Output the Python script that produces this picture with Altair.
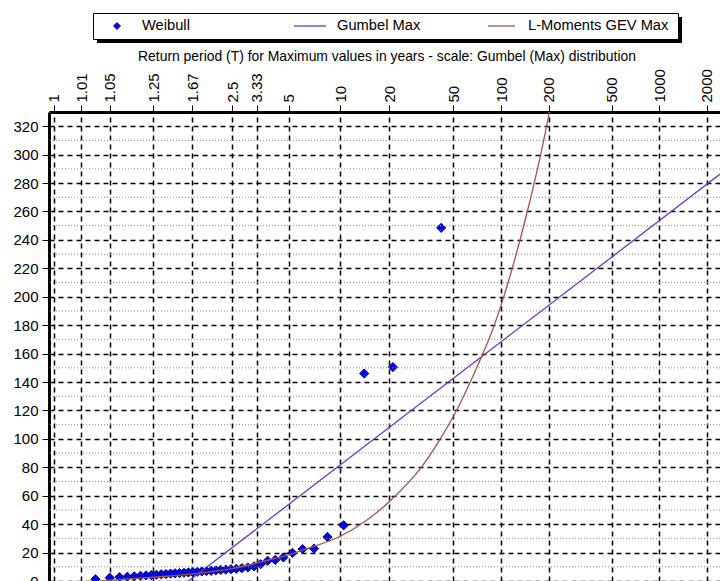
import math
import altair as alt
import pandas as pd

# ---------------- data ----------------
# Weibull plotting positions: return period T (years) and observed maxima
weibull_T = [42.0, 21.0, 14.0, 10.5, 8.4, 7.0, 6.0, 5.25, 4.667, 4.2,
             3.818, 3.5, 3.231, 3.0, 2.8, 2.625, 2.471, 2.333, 2.211, 2.1,
             2.0, 1.909, 1.826, 1.75, 1.68, 1.615, 1.556, 1.5, 1.448, 1.4,
             1.355, 1.3125, 1.273, 1.235, 1.2, 1.167, 1.135, 1.105, 1.077, 1.05,
             1.024]
weibull_val = [248.5, 150.5, 146.0, 39.2, 31.0, 22.8, 22.5, 19.8, 16.6, 14.8,
               14.2, 11.8, 10.3, 9.5, 9.0, 8.6, 8.3, 8.0, 7.8, 7.5,
               7.2, 7.0, 6.7, 6.5, 6.2, 6.0, 5.8, 5.6, 5.4, 5.2,
               4.9, 4.7, 4.4, 4.2, 3.9, 3.7, 3.3, 3.0, 2.7, 2.3,
               1.3]

# Gumbel Max fitted line
gumbel_T = [1.5, 10.0, 100.0, 3000.0]
gumbel_val = [-4.9, 81.6, 168.3, 294.0]

# L-Moments GEV Max fitted curve
gev_T = [1.031, 1.228, 1.799, 2.537, 3.802, 5.105, 6.39, 10.02, 14.21, 20.24,
         31.09, 41.46, 52.99, 63.95, 76.1, 89.3, 103.3, 146.4, 176.9, 201.6, 223.0]
gev_val = [0.0, 2.5, 5.5, 8.9, 14.5, 18.8, 22.8, 31.5, 42.0, 56.5,
           79.0, 100.0, 121.0, 140.0, 159.0, 178.0, 199.0, 260.0, 299.0, 330.0, 360.0]

# Return-period tick labels on the top axis
tick_T = [1.001, 1.01, 1.05, 1.25, 1.67, 2.5, 3.33, 5, 10, 20, 50, 100, 200, 500, 1000, 2000]
y_ticks = list(range(0, 321, 20))
y_minor = list(range(10, 321, 20))

legend_labels = ["Weibull", "Gumbel Max", "L-Moments GEV Max"]
title_text = "Return period (T) for Maximum values in years - scale: Gumbel (Max) distribution"

# ---------------- helpers ----------------
def reduced(T):
    return -math.log(-math.log(1.0 - 1.0 / T))

RV = "-log(-log(1 - 1/datum.T))"
FONT = "Liberation Sans"
PURPLE = "#6A3CBC"
BROWN = "#A0564E"

W, H = 671, 469
xs = alt.Scale(domain=[-2, 7.796], nice=False, zero=False)
ys = alt.Scale(domain=[0, 330], nice=False, zero=False)

df_w = pd.DataFrame({"T": weibull_T, "value": weibull_val})
df_g = pd.DataFrame({"T": gumbel_T, "value": gumbel_val})
df_e = pd.DataFrame({"T": gev_T, "value": gev_val})
df_minor = pd.DataFrame({"value": y_minor})
one = pd.DataFrame({"k": [0]})

x_axis = alt.Axis(
    orient="top", values=[reduced(t) for t in tick_T],
    labelExpr="'' + round(100/(1 - exp(-exp(-datum.value))))/100",
    labelAngle=270, labelFont=FONT, labelFontSize=15, labelColor="black",
    labelPadding=3, labelOverlap=False, labelFlush=False, labelBound=False,
    tickSize=7, tickColor="black", tickWidth=1,
    domainColor="black", domainWidth=3,
    grid=True, gridColor="black", gridDash=[5, 4], gridWidth=1.5, gridOpacity=1,
    title="",
)
y_axis = alt.Axis(
    orient="left", values=y_ticks,
    labelFont=FONT, labelFontSize=15, labelColor="black", labelPadding=4,
    labelOverlap=False, labelFlush=False, labelBound=False,
    tickSize=7, tickColor="black", tickWidth=1,
    domainColor="black", domainWidth=3,
    grid=True, gridColor="black", gridDash=[5, 4], gridWidth=1.5, gridOpacity=1,
    title="",
)

X = alt.X("rv:Q", scale=xs, axis=x_axis, title="")
Y = alt.Y("value:Q", scale=ys, axis=y_axis, title="")

points = alt.Chart(df_w).transform_calculate(rv=RV).mark_point(
    shape="diamond", filled=True, fill="#0000FF", stroke="#000050",
    strokeWidth=0.9, size=85, opacity=1, clip=True
).encode(x=X, y=Y)

minor = alt.Chart(df_minor).mark_rule(
    color="#8c8c8c", strokeDash=[1, 2], strokeWidth=1
).encode(y=Y)

gumbel = alt.Chart(df_g).transform_calculate(rv=RV).mark_line(
    color=PURPLE, strokeWidth=1.3, clip=True
).encode(x=X, y=Y, order="T:Q")

gev = alt.Chart(df_e).transform_calculate(rv=RV).mark_line(
    color=BROWN, strokeWidth=1.3, clip=True, interpolate="monotone"
).encode(x=X, y=Y, order="T:Q")

# ---------------- legend box and axis title (outside the plot area) ----------------
shadow = alt.Chart(one).mark_rect(fill="black").encode(
    x=alt.value(48), x2=alt.value(633), y=alt.value(-95), y2=alt.value(-69))
box = alt.Chart(one).mark_rect(fill="white", stroke="black", strokeWidth=1).encode(
    x=alt.value(44.5), x2=alt.value(629.5), y=alt.value(-98.5), y2=alt.value(-72.5))
leg_pt = alt.Chart(one).mark_point(
    shape="diamond", filled=True, fill="#0000FF", stroke="#000050", strokeWidth=0.8,
    size=50, opacity=1).encode(x=alt.value(68), y=alt.value(-86))
leg_g = alt.Chart(one).mark_rule(color=PURPLE, strokeWidth=1.3).encode(
    x=alt.value(245), x2=alt.value(277), y=alt.value(-86))
leg_e = alt.Chart(one).mark_rule(color=BROWN, strokeWidth=1.3).encode(
    x=alt.value(439), x2=alt.value(466), y=alt.value(-86))

def leg_text(label, xpos):
    return alt.Chart(one).mark_text(
        align="left", baseline="middle", font=FONT, fontSize=14.7, color="black"
    ).encode(x=alt.value(xpos), y=alt.value(-86), text=alt.value(label))

t1 = leg_text(legend_labels[0], 93)
t2 = leg_text(legend_labels[1], 288)
t3 = leg_text(legend_labels[2], 479)

axis_title = alt.Chart(one).mark_text(
    align="center", baseline="middle", font=FONT, fontSize=13.9, color="black"
).encode(x=alt.value(338), y=alt.value(-55), text=alt.value(title_text))

chart = alt.layer(
    points, minor, gumbel, gev, shadow, box, leg_pt, leg_g, leg_e, t1, t2, t3, axis_title
).properties(
    width=W, height=H,
    autosize=alt.AutoSizeParams(type="none"),
    padding={"left": 49, "top": 112, "right": 0, "bottom": 0},
    background="white",
).configure_view(strokeWidth=0)

chart.save("out.html", embed_options={"renderer": "svg", "actions": False})
